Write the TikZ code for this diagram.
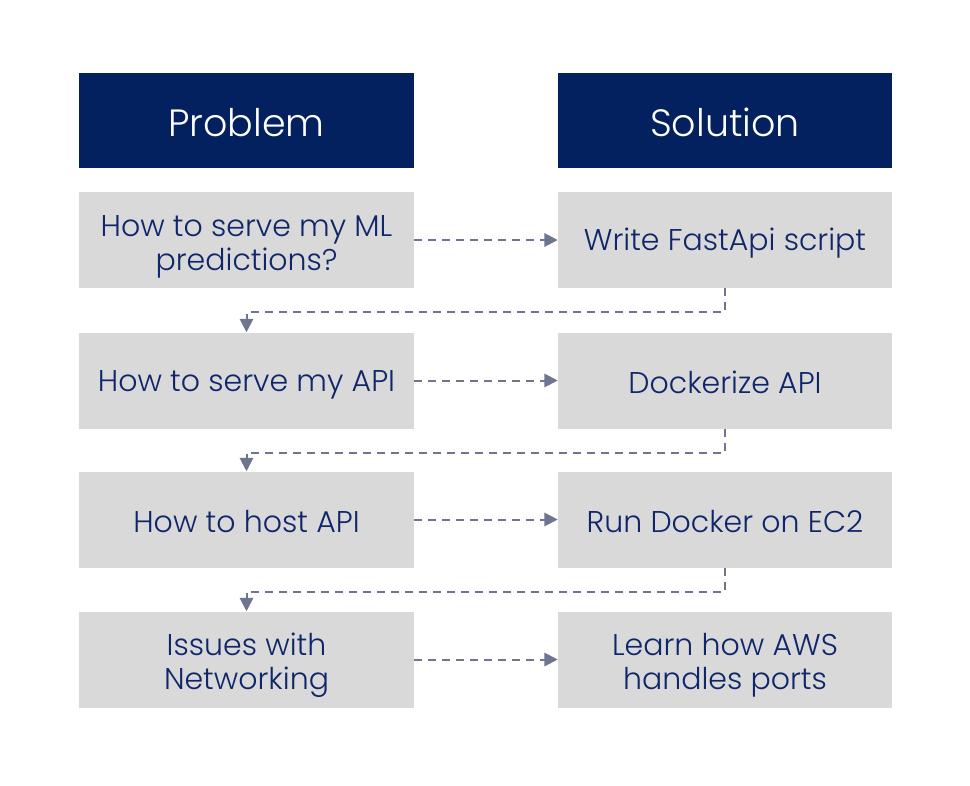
\documentclass[tikz,border=0pt]{standalone}
\usepackage{fontspec}
\setmainfont{Poppins Light}
\usetikzlibrary{arrows.meta}
\definecolor{navy}{HTML}{03205F}
\definecolor{txt}{HTML}{10266A}
\definecolor{boxgray}{HTML}{D9D9D9}
\definecolor{conngray}{HTML}{6E7590}
\newcommand\bodystrut{\vrule height 22pt depth 3.2pt width 0pt}
\newcommand\firststrut{\vrule height 26pt depth 0pt width 0pt}
\newcommand\hdrstrut{\vrule height 28pt depth 4pt width 0pt}
\tikzset{
  hdr/.style={rectangle, fill=navy, text=white, minimum height=71.25pt, inner sep=0pt, font=\fontsize{28.5}{34}\selectfont, execute at begin node=\hdrstrut},
  item/.style={rectangle, fill=boxgray, text=txt, minimum height=72pt, inner sep=0pt, align=center, font=\fontsize{22.5}{25.5}\selectfont, execute at begin node=\bodystrut},
  lcol/.style={minimum width=251.25pt},
  rcol/.style={minimum width=250.5pt},
  conn/.style={draw=conngray, line width=1.5pt, dash pattern=on 6pt off 4.5pt, -{Triangle[length=10pt,width=10pt]}},
}
\begin{document}
\begin{tikzpicture}[x=0.75pt,y=-0.75pt]
\useasboundingbox (0,0) rectangle (970,785);
\fill[white] (0,0) rectangle (970,785);
\node[hdr,lcol] (hl) at (246.5,120.5) {Problem};
\node[hdr,rcol] (hr) at (725,120.5) {Solution};
\node[item,lcol] (l1) at (246.5,240) {\firststrut How to serve my ML\\predictions?};
\node[item,rcol] (r1) at (725,240) {Write FastApi script};
\node[item,lcol] (l2) at (246.5,380.5) {How to serve my API};
\node[item,rcol] (r2) at (725,380.5) {Dockerize API};
\node[item,lcol] (l3) at (246.5,519.5) {How to host API};
\node[item,rcol] (r3) at (725,519.5) {Run Docker on EC2};
\node[item,lcol] (l4) at (246.5,659.5) {\firststrut Issues with\\Networking};
\node[item,rcol] (r4) at (725,659.5) {\firststrut Learn how AWS\\handles ports};
\draw[conn] (l1.east) -- (r1.west);
\draw[conn] (l2.east) -- (r2.west);
\draw[conn] (l3.east) -- (r3.west);
\draw[conn] (l4.east) -- (r4.west);
\draw[conn] (r1.south) -- ++(0,24) -| (l2.north);
\draw[conn] (r2.south) -- ++(0,24) -| (l3.north);
\draw[conn] (r3.south) -- ++(0,24) -| (l4.north);
\end{tikzpicture}
\end{document}
